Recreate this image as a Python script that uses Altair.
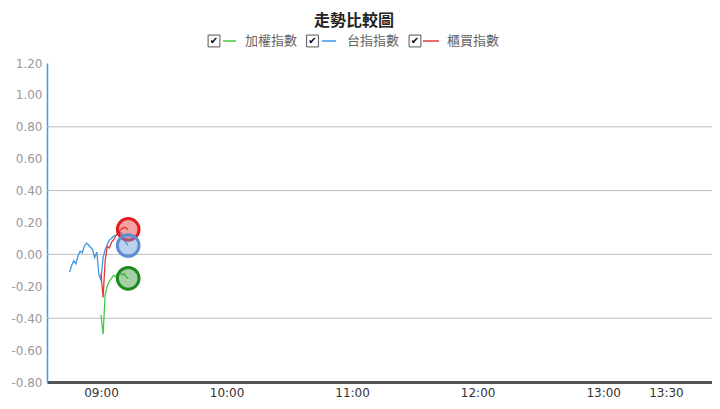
import altair as alt
import pandas as pd

# ---- data (minutes since midnight, % change) ----
SERIES = ["加權指數", "台指指數", "櫃買指數"]
COLORS = ["#45c845", "#3d98e6", "#e23a3a"]

TWSE_MIN = list(range(540, 554))
TWSE_VAL = [-0.38, -0.50, -0.25, -0.20, -0.17, -0.15, -0.13, -0.14, -0.12, -0.11, -0.13, -0.12, -0.14, -0.15]

FUT_MIN = list(range(525, 554))
FUT_VAL = [-0.11, -0.07, -0.04, -0.06, -0.01, 0.02, 0.01, 0.05, 0.07, 0.06, 0.045, 0.03, -0.02, 0.015, -0.13,
           -0.16, -0.02, 0.03, 0.06, 0.09, 0.10, 0.115, 0.12, 0.13, 0.14, 0.13, 0.10, 0.07, 0.056]

OTC_MIN = list(range(540, 554))
OTC_VAL = [-0.12, -0.27, -0.04, 0.05, 0.04, 0.075, 0.09, 0.115, 0.13, 0.15, 0.16, 0.17, 0.165, 0.157]

Y_TICKS = [-0.8, -0.6, -0.4, -0.2, 0.0, 0.2, 0.4, 0.6, 0.8, 1.0, 1.2]
GRID_VALUES = [-0.4, 0.0, 0.4, 0.8]
X_TICKS = [540, 600, 660, 720, 780, 810]
X_LABELS = ["09:00", "10:00", "11:00", "12:00", "13:00", "13:30"]

MARK_STROKE = ["#1d8a1d", "#e41c1c", "#5a8fd5"]  # green, red, blue (draw order)
MARK_FILL = ["#3a9a3a", "#e83030", "#6a9ad8"]
MARK_ORDER = ["加權指數", "櫃買指數", "台指指數"]

rows = []
for name, mins, vals in [(SERIES[0], TWSE_MIN, TWSE_VAL), (SERIES[1], FUT_MIN, FUT_VAL), (SERIES[2], OTC_MIN, OTC_VAL)]:
    for m, v in zip(mins, vals):
        rows.append({"series": name, "t": m, "v": v})
df = pd.DataFrame(rows)

last = pd.DataFrame([
    {"series": s, "t": df[df.series == s].t.iloc[-1], "v": df[df.series == s].v.iloc[-1]}
    for s in MARK_ORDER
])

label_expr = "''"
for m, l in zip(X_TICKS, X_LABELS):
    label_expr = f"datum.value == {m} ? '{l}' : ({label_expr})"

xscale = alt.Scale(domain=[514.2, 832], nice=False, zero=False)
yscale = alt.Scale(domain=[-0.8, 1.2], nice=False, zero=False)

xaxis = alt.Axis(values=X_TICKS, labelExpr=label_expr, title=None, ticks=False, grid=False,
                 domainColor="#555", domainWidth=3, labelColor="#333", labelFontSize=12,
                 labelFont="DejaVu Sans", labelPadding=5, labelOverlap=False)
yaxis = alt.Axis(values=Y_TICKS, title=None, ticks=False, grid=False,
                 labelExpr="(datum.value < -0.001 ? '-' : '') + format(abs(datum.value), '.2f')",
                 domainColor="#3d9be9", domainWidth=1.5, labelColor="#9a9a9a", labelFontSize=12,
                 labelFont="DejaVu Sans", labelPadding=5, labelOverlap=False)

grid = alt.Chart(pd.DataFrame({"g": GRID_VALUES})).mark_rule(color="#bdbdbd", strokeWidth=1).encode(
    y=alt.Y("g:Q", scale=yscale, axis=yaxis)
)

lines = alt.Chart(df).mark_line(strokeWidth=1.3).encode(
    x=alt.X("t:Q", scale=xscale, axis=xaxis),
    y=alt.Y("v:Q", scale=yscale, axis=yaxis),
    color=alt.Color("series:N", scale=alt.Scale(domain=SERIES, range=COLORS), legend=None),
    detail="series:N",
)

marks = alt.Chart(last).mark_point(size=470, strokeWidth=3, filled=False, fillOpacity=0.45, opacity=1).encode(
    x=alt.X("t:Q", scale=xscale, axis=xaxis),
    y=alt.Y("v:Q", scale=yscale, axis=yaxis),
    stroke=alt.Stroke("series:N", scale=alt.Scale(domain=MARK_ORDER, range=MARK_STROKE), legend=None),
    fill=alt.Fill("series:N", scale=alt.Scale(domain=MARK_ORDER, range=MARK_FILL), legend=None),
)

one = alt.Data(values=[{"k": 1}])
title = alt.Chart(one).mark_text(fontSize=16, fontWeight="bold", font="Noto Sans CJK TC", color="#222",
                                 align="center", baseline="middle").encode(
    x=alt.value(307), y=alt.value(-42), text=alt.value("走勢比較圖"))

deco = [title]
box_x = [167, 265.5, 368]
dash_x = [(176, 189), (275, 289), (376, 392)]
lab_x = [198, 300, 400]
for i, s in enumerate(SERIES):
    deco.append(alt.Chart(one).mark_square(size=140, filled=True, fill="white", stroke="#555", strokeWidth=1,
                                           opacity=1).encode(x=alt.value(box_x[i]), y=alt.value(-22)))
    deco.append(alt.Chart(one).mark_text(fontSize=10, font="DejaVu Sans", color="#000", align="center",
                                         baseline="middle").encode(
        x=alt.value(box_x[i]), y=alt.value(-22), text=alt.value("✔")))
    deco.append(alt.Chart(one).mark_rule(color=COLORS[i], strokeWidth=1.5).encode(
        x=alt.value(dash_x[i][0]), x2=alt.value(dash_x[i][1]), y=alt.value(-22)))
    deco.append(alt.Chart(one).mark_text(fontSize=13, font="Noto Sans CJK TC", color="#666", align="left",
                                         baseline="middle").encode(
        x=alt.value(lab_x[i]), y=alt.value(-22), text=alt.value(s)))

chart = alt.layer(grid, lines, marks, *deco).resolve_scale(color="independent").properties(
    width=665, height=319,
    background="white",
    autosize=alt.AutoSizeParams(type="none"),
    padding={"left": 39, "top": 55, "right": 0, "bottom": 19},
).configure_view(stroke=None)

chart.save("out.html", embed_options={"renderer": "svg", "actions": False})
